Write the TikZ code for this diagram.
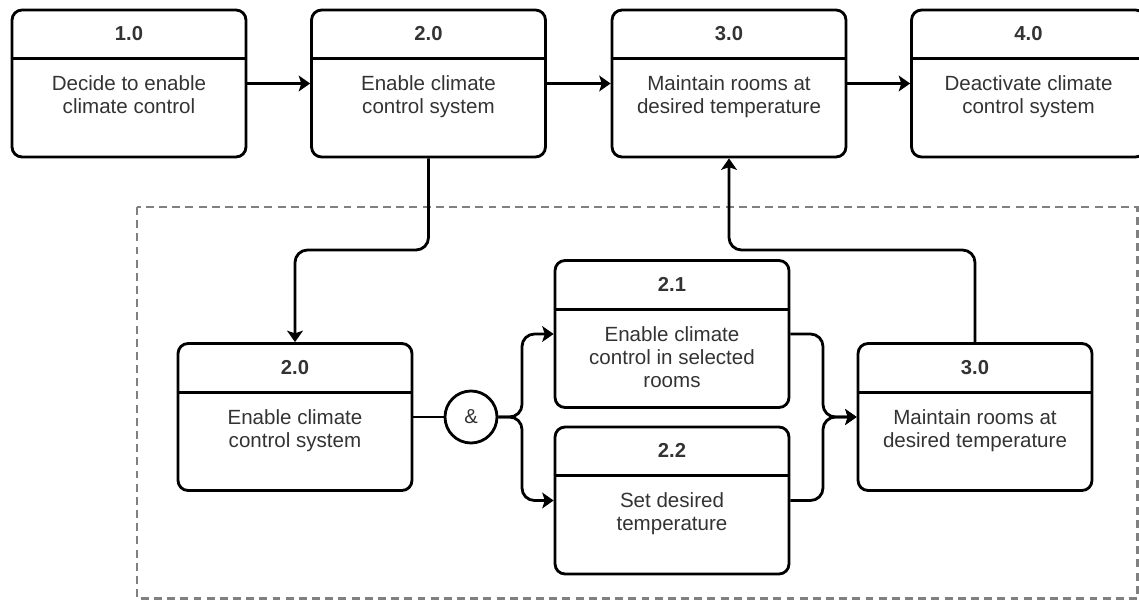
\documentclass[tikz,border=0pt]{standalone}
\usepackage{fontspec}
\setmainfont{Liberation Sans}
\usetikzlibrary{arrows.meta,positioning}
\usepackage{xcolor}
\definecolor{txtgray}{HTML}{333333}
\definecolor{framegray}{HTML}{808080}

\tikzset{
  proc/.style={draw, line width=1.6pt, rounded corners=0.2cm,
    minimum width=4.68cm, minimum height=2.94cm, inner sep=0pt},
  proctitle/.style={font=\fontsize{11.5}{13.5}\selectfont\bfseries, text=txtgray},
  proctext/.style={font=\fontsize{11.7}{13}\selectfont, text=txtgray,
    align=center, inner sep=0pt, anchor=north},
  flow/.style={line width=1.6pt, rounded corners=0.25cm,
    -{Stealth[length=6.5pt,width=9pt,inset=1.5pt]}},
  group/.style={draw=framegray, line width=1.6pt, dash pattern=on 4.5pt off 3pt},
}

% process box: name, centre, number, text
\newcommand{\procbox}[4]{%
  \node[proc] (#1) at (#2) {};
  \draw[line width=1.6pt] ([yshift=-1cm]#1.north west) -- ([yshift=-1cm]#1.north east);
  \node[proctitle] (#1-num) at ([yshift=-0.5cm]#1.north) {#3};
  \node[proctext] (#1-txt) at ([yshift=-1.34cm]#1.north) {#4};
}

\begin{document}
\begin{tikzpicture}[x=0.02cm, y=-0.02cm]
    \useasboundingbox (0,0) rectangle (1139,601);

    % decomposition of 2.0
    \draw[group] (137,207) rectangle (1137.5,598.5);

    % top level
    \procbox{p1}{129,83.5}{1.0}{Decide to enable\\climate control}
    \procbox{p2}{428.5,83.5}{2.0}{Enable climate\\control system}
    \procbox{p3}{729,83.5}{3.0}{Maintain rooms at\\desired temperature}
    \procbox{p4}{1028.5,83.5}{4.0}{Deactivate climate\\control system}

    \draw[flow] (p1) -- (p2);
    \draw[flow] (p2) -- (p3);
    \draw[flow] (p3) -- (p4);

    % inside the dashed frame
    \procbox{q2}{295,417}{2.0}{Enable climate\\control system}
    \procbox{q21}{672,334}{2.1}{Enable climate\\control in selected\\rooms}
    \procbox{q22}{672,500.5}{2.2}{Set desired\\temperature}
    \procbox{q3}{975,417}{3.0}{Maintain rooms at\\desired temperature}

    \node[draw, circle, line width=1.6pt, minimum size=1.04cm, inner sep=0pt,
      font=\fontsize{11.5}{13}\selectfont, text=txtgray] (amp) at (471,417) {\&};

    \coordinate (jmp) at (0,250);
    \coordinate (fork) at (522,417);
    \coordinate (join) at (823,417);

    \draw[flow] (p2.south) -- (p2.south |- jmp) -| (q2.north);
    \draw[line width=1.6pt] (q2.east) -- (amp.west);
    \draw[flow] (amp.east) -- (fork) |- (q21.west);
    \draw[flow] (amp.east) -- (fork) |- (q22.west);
    \draw[flow] (q21.east) -| (join) -- (q3.west);
    \draw[flow] (q22.east) -| (join) -- (q3.west);
    \draw[flow] (q3.north) -- (q3.north |- jmp) -| (p3.south);
\end{tikzpicture}
\end{document}
